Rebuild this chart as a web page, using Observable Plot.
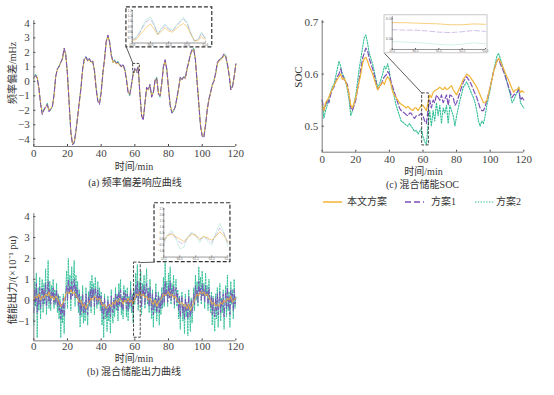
<!DOCTYPE html>
<html><head><meta charset="utf-8">
<script src="https://cdn.jsdelivr.net/npm/d3@7"></script>
<script src="https://cdn.jsdelivr.net/npm/@observablehq/plot@0.6"></script>
<style>
body{margin:0;background:#fff;}
#root{position:relative;width:554px;height:395px;overflow:hidden;background:#fff;font-family:"Liberation Serif","Noto Sans CJK SC",serif;color:#333;}
.t{position:absolute;white-space:nowrap;transform:translate(-50%,-50%);line-height:1;}
.r{transform:translate(-50%,-50%) rotate(-90deg);}
</style></head><body><div id="root"></div>
<script>
// ---------------- data ----------------
const seriesNames = ["本文方案", "方案1", "方案2"];
const xTicks = [0, 20, 40, 60, 80, 100, 120];

// (a) frequency deviation, mHz, one value per minute 0..120
const freqOurs = [0.2,0.4,0.3,-0.5,-1.5,-2.2,-2.0,-1.8,-1.6,-2.0,
 -1.9,-1.7,-1.0,0.3,0.8,1.0,1.3,1.5,2.2,1.8,
 0.5,-1.5,-3.5,-4.3,-4.2,-3.5,-2.5,-1.5,-0.5,0.8,
 1.5,1.6,1.4,1.5,1.3,1.4,0.8,-0.5,-1.3,-1.5,
 -0.8,0.5,1.5,2.7,3.1,2.7,1.8,1.3,1.4,1.2,
 1.3,1.1,1.0,1.1,0.8,0.2,-0.7,-0.9,-0.3,0.5,
 0.8,0.7,1.0,-0.8,-2.3,-2.6,-1.5,-0.5,-0.6,-0.3,
 -1.0,-0.8,0.0,0.2,-0.8,-1.0,-0.2,1.0,1.4,0.8,
 -0.5,-1.6,-2.1,-2.0,-1.8,-1.2,-0.5,0.2,0.1,0.3,
 0.2,0.8,1.3,1.8,2.1,2.2,1.5,0.0,-1.5,-3.0,
 -3.7,-3.8,-3.0,-2.0,-1.3,-0.8,-0.3,0.0,0.5,1.2,
 1.4,1.5,1.6,1.8,1.7,1.2,0.5,-0.5,-0.4,0.3,
 1.2];
const freqS1 = [0.3,0.4,0.2,-0.4,-1.6,-2.3,-2.0,-1.7,-1.6,-2.1,
 -1.9,-1.8,-0.9,0.3,0.9,1.0,1.3,1.6,2.3,1.8,
 0.4,-1.6,-3.5,-4.4,-4.2,-3.4,-2.5,-1.4,-0.5,0.9,
 1.6,1.7,1.4,1.6,1.3,1.4,0.7,-0.5,-1.4,-1.6,
 -0.8,0.6,1.5,2.8,3.2,2.7,1.8,1.4,1.4,1.3,
 1.3,1.2,1.0,1.2,0.8,0.1,-0.8,-0.9,-0.2,0.5,
 0.9,0.7,1.0,-0.9,-2.4,-2.7,-1.5,-0.4,-0.6,-0.2,
 -1.1,-0.8,0.1,0.2,-0.9,-1.0,-0.1,1.0,1.5,0.8,
 -0.5,-1.7,-2.2,-2.0,-1.8,-1.1,-0.5,0.3,0.1,0.3,
 0.2,0.9,1.3,1.9,2.2,2.2,1.5,-0.1,-1.6,-3.1,
 -3.8,-3.9,-3.0,-2.0,-1.2,-0.8,-0.2,0.0,0.6,1.3,
 1.5,1.5,1.7,1.9,1.7,1.2,0.4,-0.6,-0.4,0.3,
 1.2];
const freqS2 = [0.2,0.5,0.3,-0.5,-1.5,-2.1,-1.9,-1.8,-1.5,-2.0,
 -2.0,-1.7,-1.0,0.4,0.8,1.1,1.3,1.5,2.2,1.9,
 0.5,-1.5,-3.6,-4.3,-4.3,-3.5,-2.4,-1.5,-0.4,0.8,
 1.5,1.7,1.5,1.5,1.4,1.3,0.8,-0.4,-1.3,-1.5,
 -0.7,0.5,1.6,2.7,3.1,2.8,1.9,1.3,1.5,1.2,
 1.4,1.1,1.1,1.1,0.9,0.2,-0.7,-1.0,-0.3,0.6,
 0.8,0.8,1.0,-0.8,-2.3,-2.6,-1.6,-0.5,-0.5,-0.3,
 -1.0,-0.7,0.0,0.3,-0.8,-1.1,-0.2,1.1,1.4,0.9,
 -0.4,-1.6,-2.1,-2.1,-1.7,-1.2,-0.4,0.2,0.2,0.3,
 0.3,0.8,1.4,1.8,2.1,2.3,1.4,0.0,-1.5,-3.0,
 -3.7,-3.8,-3.1,-1.9,-1.3,-0.7,-0.3,0.1,0.5,1.2,
 1.4,1.6,1.6,1.8,1.8,1.1,0.5,-0.5,-0.3,0.3,
 1.2];
// (a) inset, 59..63 min every 0.2 min
const freqInsetOurs = [0.65,0.66,0.74,0.82,0.90,0.95,0.86,0.75,0.82,0.88,0.82,0.80,0.86,0.92,0.96,0.90,0.76,0.65,0.64,0.72,0.66];
const freqInsetS1   = [0.66,0.68,0.78,0.90,1.00,1.04,0.92,0.76,0.85,0.93,0.85,0.82,0.90,0.98,1.04,0.96,0.78,0.64,0.66,0.78,0.68];
const freqInsetS2   = [0.67,0.70,0.80,0.93,1.04,1.08,0.95,0.77,0.87,0.95,0.87,0.83,0.92,1.00,1.07,0.98,0.79,0.63,0.67,0.80,0.69];

// (b) storage output, ×10^-1 pu; 方案1/方案2 every 0.5 min, 本文方案 every minute
const powS2 = [-1.2,0.9,-0.3,1.3,-1.8,0.6,-0.5,1.1,-0.9,0.4,
 1.0,-0.6,0.8,-0.2,1.5,-0.7,0.3,1.9,-0.4,0.9,
 -0.5,0.7,0.1,1.0,-0.4,0.5,-0.2,0.8,-0.6,0.3,
 -0.9,0.2,-1.8,-0.3,-1.1,0.3,-1.6,-0.2,0.6,1.4,
 -0.4,2.0,0.3,1.2,-0.5,1.6,0.2,1.1,1.9,-0.3,
 1.2,0.1,0.9,-0.6,0.5,-1.3,0.2,-0.8,0.7,-1.1,
 -0.2,-1.0,0.6,-0.5,-1.2,0.4,-0.3,0.9,-0.6,1.2,
 0.1,0.8,-0.7,1.1,0.3,-0.4,0.9,-0.2,0.6,-0.5,
 0.4,-1.2,-0.1,-1.8,0.3,-0.9,-0.4,-1.5,0.2,-1.0,
 -0.3,-1.6,0.5,-0.6,-1.1,0.1,-0.8,0.6,-0.5,0.3,
 -1.0,0.8,-0.3,1.0,-0.7,0.2,-0.9,0.7,-0.1,0.5,
 -0.8,0.6,-1.0,0.2,-0.4,0.9,-0.6,0.3,-1.1,0.5,
 -0.2,1.3,0.1,1.7,-0.5,0.9,0.2,1.4,-0.7,0.8,
 0.3,1.2,-0.4,0.7,1.5,-0.2,0.6,-0.6,1.0,0.1,
 -0.9,0.5,-1.3,0.1,-0.6,0.8,-1.0,-0.2,0.4,-1.2,
 0.2,-0.7,0.6,-0.4,1.1,-0.3,1.8,0.2,0.9,-0.3,
 1.3,0.1,1.6,-0.2,0.8,0.3,1.2,-0.4,0.7,1.0,
 -0.3,0.5,-0.9,0.2,-1.4,-0.1,0.4,-1.0,-0.3,-1.6,
 0.3,-0.8,-0.2,-1.7,0.5,-0.6,-1.5,0.1,-1.1,-0.4,
 0.6,-0.5,1.2,0.0,0.9,-0.3,1.6,0.4,1.1,-0.2,
 1.4,0.2,0.8,-0.4,1.3,0.3,0.7,-0.5,1.0,0.1,
 -0.6,0.4,-1.2,0.2,-0.8,-1.5,0.3,-0.9,0.6,-1.3,
 -0.2,0.8,-1.0,0.1,-0.6,0.5,-1.4,-0.3,0.7,-0.8,
 1.2,-0.5,0.4,-1.3,0.9,-0.2,0.5,-0.9,1.0,-0.4,
 0.2];
const powS1 = [-0.6,0.5,-0.1,0.8,-0.6,0.3,-0.2,0.6,-0.4,0.3,
 0.6,-0.2,0.5,0.0,0.8,-0.3,0.2,0.9,-0.1,0.5,
 -0.2,0.4,0.1,0.6,-0.2,0.3,-0.1,0.5,-0.3,0.2,
 -0.5,0.0,-0.9,-0.2,-0.6,0.1,-0.8,-0.1,0.3,0.7,
 0.0,1.0,0.3,0.7,0.0,0.9,0.2,0.6,1.0,0.1,
 0.7,0.1,0.5,-0.3,0.3,-0.7,0.0,-0.5,0.3,-0.6,
 -0.1,-0.6,0.3,-0.3,-0.7,0.2,-0.2,0.5,-0.3,0.6,
 0.1,0.5,-0.3,0.6,0.2,-0.2,0.5,-0.1,0.3,-0.2,
 0.2,-0.6,-0.1,-0.9,0.1,-0.5,-0.3,-0.8,0.0,-0.6,
 -0.2,-0.8,0.2,-0.4,-0.6,0.0,-0.4,0.3,-0.3,0.2,
 -0.5,0.4,-0.2,0.5,-0.4,0.1,-0.5,0.4,0.0,0.3,
 -0.4,0.3,-0.5,0.1,-0.2,0.5,-0.3,0.2,-0.6,0.3,
 0.0,0.7,0.1,0.9,-0.2,0.5,0.2,0.8,-0.3,0.5,
 0.2,0.7,-0.2,0.4,0.8,0.0,0.4,-0.3,0.6,0.1,
 -0.5,0.3,-0.7,0.0,-0.3,0.4,-0.6,-0.1,0.2,-0.6,
 0.1,-0.4,0.3,-0.2,0.6,-0.1,0.9,0.2,0.5,-0.1,
 0.7,0.1,0.9,0.0,0.5,0.2,0.7,-0.2,0.4,0.6,
 -0.1,0.3,-0.5,0.1,-0.8,-0.1,0.2,-0.6,-0.2,-0.9,
 0.1,-0.5,-0.1,-0.9,0.2,-0.4,-0.8,0.0,-0.6,-0.2,
 0.3,-0.2,0.7,0.1,0.5,-0.1,0.9,0.3,0.6,0.0,
 0.8,0.2,0.5,-0.1,0.7,0.2,0.4,-0.2,0.6,0.1,
 -0.3,0.2,-0.7,0.1,-0.4,-0.8,0.1,-0.5,0.3,-0.7,
 -0.1,0.4,-0.6,0.0,-0.3,0.3,-0.8,-0.2,0.4,-0.4,
 0.6,-0.3,0.2,-0.7,0.5,-0.1,0.3,-0.5,0.5,-0.2,
 0.1];
const powOurs = [0.0,0.2,0.1,0.3,0.0,0.2,0.1,0.3,0.2,0.4,
 0.1,0.2,0.0,0.2,0.1,-0.1,-0.3,-0.2,0.0,0.3,
 0.4,0.3,0.5,0.3,0.4,0.2,0.1,-0.1,0.0,-0.3,
 -0.2,-0.4,-0.2,-0.1,0.1,0.0,0.2,0.1,0.0,0.1,
 -0.1,-0.3,-0.2,-0.4,-0.3,-0.2,-0.3,-0.1,-0.2,0.0,
 -0.1,0.1,0.0,-0.2,0.0,-0.1,0.1,-0.1,0.0,-0.2,
 0.1,0.3,0.2,0.4,0.2,0.3,0.1,0.2,0.0,0.1,
 -0.1,-0.2,0.0,-0.3,-0.1,0.0,0.1,0.3,0.2,0.3,
 0.4,0.2,0.3,0.1,0.2,0.0,-0.1,-0.2,-0.1,-0.3,
 -0.2,-0.4,-0.2,-0.5,-0.3,-0.1,0.1,0.3,0.2,0.4,
 0.3,0.4,0.2,0.3,0.1,0.0,-0.2,-0.1,-0.3,-0.2,
 -0.3,-0.1,-0.2,0.0,-0.1,0.1,0.0,0.2,-0.1,0.0,
 0.1];
// (b) inset, 59.5..63.5 min every 0.25 min
const powInsetOurs = [-0.1,0.3,0.4,0.2,0.0,-0.2,0.1,0.4,0.3,0.0,0.2,0.1,-0.1,0.2,0.6,0.3,-0.2];
const powInsetS1   = [-0.2,0.3,0.5,0.1,-0.3,-0.4,0.1,0.5,0.3,-0.1,0.2,0.0,-0.3,0.3,0.9,0.5,-0.3];
const powInsetS2   = [-0.4,0.4,0.7,0.0,-0.8,-0.7,0.2,0.6,0.3,-0.3,0.2,-0.2,-0.5,0.5,1.3,0.6,-0.6];

// (c) SOC, one value per minute 0..120
const socOurs = [0.540,0.530,0.545,0.550,0.555,0.565,0.570,0.578,0.585,0.590,
 0.595,0.600,0.590,0.592,0.585,0.575,0.560,0.540,0.535,0.545,
 0.555,0.570,0.585,0.600,0.620,0.630,0.632,0.625,0.615,0.608,
 0.600,0.590,0.580,0.570,0.575,0.580,0.585,0.580,0.590,0.595,
 0.590,0.580,0.565,0.560,0.555,0.550,0.545,0.542,0.540,0.538,
 0.535,0.538,0.535,0.532,0.530,0.535,0.535,0.530,0.535,0.540,
 0.540,0.535,0.530,0.545,0.560,0.555,0.565,0.568,0.570,0.572,
 0.575,0.572,0.570,0.575,0.570,0.572,0.575,0.578,0.570,0.565,
 0.560,0.568,0.575,0.582,0.590,0.595,0.600,0.598,0.595,0.590,
 0.585,0.580,0.575,0.568,0.560,0.552,0.545,0.545,0.550,0.562,
 0.575,0.590,0.605,0.615,0.625,0.630,0.625,0.618,0.610,0.602,
 0.595,0.588,0.580,0.572,0.565,0.570,0.570,0.575,0.565,0.568,
 0.565];
const socS1 = [0.550,0.530,0.540,0.550,0.545,0.560,0.570,0.575,0.585,0.595,
 0.600,0.610,0.598,0.590,0.585,0.580,0.560,0.535,0.530,0.540,
 0.550,0.570,0.590,0.610,0.630,0.640,0.650,0.645,0.630,0.620,
 0.610,0.598,0.585,0.570,0.575,0.580,0.588,0.595,0.598,0.605,
 0.600,0.585,0.575,0.565,0.555,0.545,0.535,0.530,0.528,0.525,
 0.522,0.520,0.525,0.525,0.518,0.515,0.520,0.520,0.522,0.525,
 0.520,0.510,0.505,0.530,0.550,0.535,0.550,0.545,0.560,0.555,
 0.550,0.560,0.545,0.552,0.560,0.540,0.560,0.558,0.555,0.540,
 0.545,0.555,0.565,0.575,0.585,0.590,0.595,0.590,0.585,0.578,
 0.570,0.562,0.555,0.545,0.535,0.530,0.530,0.538,0.550,0.562,
 0.575,0.590,0.605,0.615,0.625,0.630,0.620,0.612,0.605,0.595,
 0.585,0.575,0.565,0.555,0.560,0.562,0.565,0.570,0.550,0.555,
 0.550];
const socS2 = [0.550,0.515,0.530,0.540,0.555,0.565,0.575,0.580,0.595,0.610,
 0.625,0.615,0.600,0.595,0.585,0.570,0.550,0.520,0.530,0.545,
 0.560,0.585,0.610,0.630,0.650,0.670,0.675,0.660,0.640,0.630,
 0.620,0.605,0.590,0.575,0.580,0.590,0.600,0.615,0.610,0.620,
 0.605,0.580,0.570,0.555,0.540,0.530,0.520,0.510,0.508,0.505,
 0.502,0.500,0.505,0.500,0.495,0.490,0.492,0.485,0.490,0.495,
 0.480,0.470,0.465,0.500,0.530,0.500,0.530,0.510,0.545,0.520,
 0.540,0.505,0.535,0.525,0.540,0.505,0.540,0.530,0.520,0.500,
 0.520,0.535,0.550,0.562,0.575,0.580,0.585,0.578,0.570,0.562,
 0.555,0.545,0.530,0.510,0.500,0.510,0.505,0.520,0.540,0.555,
 0.570,0.590,0.605,0.620,0.635,0.640,0.630,0.620,0.610,0.598,
 0.585,0.572,0.560,0.545,0.550,0.558,0.565,0.575,0.545,0.540,
 0.535];
// (c) inset, 59.5..63.5 min every 0.5 min
const socInsetOurs = [0.540,0.540,0.539,0.538,0.537,0.535,0.535,0.537,0.536];
const socInsetS1   = [0.523,0.522,0.522,0.520,0.517,0.516,0.518,0.521,0.519];
const socInsetS2   = [0.494,0.493,0.492,0.490,0.487,0.486,0.488,0.491,0.489];

// ---------------- helpers ----------------
const minutes = d3.range(0, 121);
const halfMinutes = d3.range(0, 241).map(i => i / 2);
const stepAxis = (start, step, n) => d3.range(n).map(i => +(start + i * step).toFixed(3));

const STY = {
  "本文方案": {stroke: "#F2B437", dash: null},
  "方案1": {stroke: "#7A4FB8", dash: "5,2.5"},
  "方案2": {stroke: "#2FBE96", dash: "1.4,1.4"}
};
const rows = (xs, ys) => ys.map((v, i) => ({t: xs[i], v}));
function line(xs, ys, name, sw, op = 1) {
  const o = {x: "t", y: "v", stroke: STY[name].stroke, strokeWidth: sw, strokeOpacity: op};
  if (STY[name].dash) o.strokeDasharray = STY[name].dash;
  return Plot.line(rows(xs, ys), o);
}
const AX = "#7a7a7a";
function axes(yMin, yTicks, yFmt, pad = 5) {
  return [
    Plot.ruleY([yMin], {stroke: AX, strokeWidth: 1}),
    Plot.ruleX([0], {stroke: AX, strokeWidth: 1}),
    Plot.axisX(xTicks, {tickSize: -2, tickPadding: pad, fontSize: 11, color: "#444", label: null}),
    Plot.axisY(yTicks, {tickSize: -2, tickPadding: 6, fontSize: 11, color: "#444", label: null, tickFormat: yFmt})
  ];
}
const root = document.getElementById("root");
function place(el, left, top) {
  el.style.position = "absolute";
  el.style.left = left + "px";
  el.style.top = top + "px";
  el.style.background = "transparent";
  el.style.overflow = "visible";
  el.style.fontFamily = '"Liberation Serif","Noto Sans CJK SC",serif';
  el.style.maxWidth = "none";
  root.appendChild(el);
  return el;
}
function text(s, x, y, size, rot) {
  const d = document.createElement("div");
  d.className = "t" + (rot ? " r" : "");
  d.style.left = x + "px"; d.style.top = y + "px"; d.style.fontSize = size + "px";
  d.textContent = s;
  root.appendChild(d);
}
function inset(host, hl, ht, box, o) {
  const sx = host.scale("x"), sy = host.scale("y");
  const left = hl + sx.apply(box.x1), right = hl + sx.apply(box.x2);
  const top = ht + sy.apply(box.y2), bottom = ht + sy.apply(box.y1);
  const p = Plot.plot({
    width: right - left, height: bottom - top,
    marginLeft: o.m[3], marginRight: o.m[1], marginTop: o.m[0], marginBottom: o.m[2],
    x: {domain: o.dx}, y: {domain: o.dy},
    marks: [
      ...o.lines,
      Plot.ruleX([o.dx[0]], {stroke: "#555", strokeWidth: 0.6}),
      Plot.ruleY([o.dy[0]], {stroke: "#555", strokeWidth: 0.6}),
      Plot.axisX(o.xt, {tickSize: -1, tickPadding: 1.2, fontSize: 3.4, color: "#555", label: null, tickFormat: o.xf}),
      Plot.axisY(o.yt, {tickSize: -1, tickPadding: 1.2, fontSize: 3.4, color: "#555", label: null, tickFormat: o.yf})
    ]
  });
  place(p, left, top);
}

// ---------------- (a) ----------------
const boxA = {x1: 55, x2: 106, y1: 2.35, y2: 5.1};
const zoomA = {x1: 59, x2: 63, y1: 0.6, y2: 1.2};
const chartA = Plot.plot({
  width: 250, height: 160, marginLeft: 33.33, marginRight: 14.67, marginTop: 20, marginBottom: 14,
  x: {domain: [0, 120]}, y: {domain: [-4.5, 4.2]},
  marks: [
    line(minutes, freqS2, "方案2", 1),
    line(minutes, freqOurs, "本文方案", 1),
    line(minutes, freqS1, "方案1", 1),
    ...axes(-4.5, [-4,-3,-2,-1,0,1,2,3,4]),
    Plot.rect([zoomA], {x1: "x1", x2: "x2", y1: "y1", y2: "y2", fill: "none", stroke: "#333", strokeWidth: 0.9, strokeDasharray: "2.5,1.5"}),
    Plot.link([{a: boxA.x1, b: boxA.y1, c: zoomA.x1, d: zoomA.y2}], {x1: "a", y1: "b", x2: "c", y2: "d", stroke: "#333", strokeWidth: 0.8}),
    Plot.rect([boxA], {x1: "x1", x2: "x2", y1: "y1", y2: "y2", fill: "white", stroke: "#333", strokeWidth: 1.2, strokeDasharray: "4,2"})
  ]
});
place(chartA, 0, 0);
inset(chartA, 0, 0, boxA, {
  m: [3, 7, 4.3, 5.7], dx: [59, 63], dy: [0.6, 1.2],
  xt: stepAxis(59, 1, 5), yt: stepAxis(0.7, 0.1, 6), xf: d3.format(".1f"), yf: d3.format(".1f"),
  lines: [
    line(stepAxis(59, 0.2, 21), freqInsetS2, "方案2", 0.7, 0.55),
    line(stepAxis(59, 0.2, 21), freqInsetS1, "方案1", 0.7, 0.45),
    line(stepAxis(59, 0.2, 21), freqInsetOurs, "本文方案", 0.8, 0.7)
  ]
});
text("频率偏差/mHz", 13, 73, 10, true);
text("时间/min", 134, 167, 10);
text("(a) 频率偏差响应曲线", 135, 183, 10);

// ---------------- (b) ----------------
const topB = 193.33;
const boxB = {x1: 71.7, x2: 116.8, y1: 1.82, y2: 4.64};
const zoomB = {x1: 59.5, x2: 63.5, y1: -1.8, y2: 1.8};
const chartB = Plot.plot({
  width: 250, height: 162, marginLeft: 33.33, marginRight: 14.67, marginTop: 20, marginBottom: 14.63,
  x: {domain: [0, 120]}, y: {domain: [-1.95, 4.15]},
  marks: [
    line(halfMinutes, powS2, "方案2", 0.9),
    line(halfMinutes, powS1, "方案1", 0.9),
    line(minutes, powOurs, "本文方案", 0.9),
    ...axes(-1.95, [-1,0,1,2,3,4], undefined, 3.5),
    Plot.rect([zoomB], {x1: "x1", x2: "x2", y1: "y1", y2: "y2", fill: "none", stroke: "#333", strokeWidth: 0.9, strokeDasharray: "3,1.5"}),
    Plot.link([{a: boxB.x1, b: boxB.y1, c: zoomB.x2, d: zoomB.y2}], {x1: "a", y1: "b", x2: "c", y2: "d", stroke: "#333", strokeWidth: 0.8}),
    Plot.rect([boxB], {x1: "x1", x2: "x2", y1: "y1", y2: "y2", fill: "white", stroke: "#333", strokeWidth: 1.2, strokeDasharray: "4,2"})
  ]
});
place(chartB, 0, topB);
inset(chartB, 0, topB, boxB, {
  m: [5.3, 2.7, 5.3, 9.3], dx: [59.5, 63.5], dy: [-1.5, 2.5],
  xt: stepAxis(59.5, 1, 5), yt: stepAxis(-1.0, 0.5, 8), xf: d3.format(".1f"), yf: d3.format(".1f"),
  lines: [
    line(stepAxis(59.5, 0.25, 17), powInsetS2, "方案2", 0.7, 0.4),
    line(stepAxis(59.5, 0.25, 17), powInsetS1, "方案1", 0.7, 0.45),
    line(stepAxis(59.5, 0.25, 17), powInsetOurs, "本文方案", 0.8, 0.75)
  ]
});
text("储能出力/(×10⁻¹ pu)", 13, 280, 10.5, true);
text("时间/min", 134, 359, 10);
text("(b) 混合储能出力曲线", 134, 372, 10);

// ---------------- (c) ----------------
const leftC = 290;
const boxC = {x1: 37.1, x2: 98.4, y1: 0.64, y2: 0.713};
const zoomC = {x1: 59.5, x2: 63.5, y1: 0.463, y2: 0.563};
const chartC = Plot.plot({
  width: 264, height: 166, marginLeft: 31.7, marginRight: 30.7, marginTop: 20, marginBottom: 14.3,
  x: {domain: [0, 120]}, y: {domain: [0.45, 0.703]},
  marks: [
    line(minutes, socS2, "方案2", 1.1),
    line(minutes, socS1, "方案1", 1.2),
    line(minutes, socOurs, "本文方案", 1.2),
    ...axes(0.45, [0.5, 0.6, 0.7], d3.format(".1f")),
    Plot.rect([zoomC], {x1: "x1", x2: "x2", y1: "y1", y2: "y2", fill: "none", stroke: "#333", strokeWidth: 0.9, strokeDasharray: "3,1.5"}),
    Plot.link([{a: boxC.x1, b: boxC.y1, c: zoomC.x1, d: zoomC.y2}], {x1: "a", y1: "b", x2: "c", y2: "d", stroke: "#333", strokeWidth: 0.8}),
    Plot.rect([boxC], {x1: "x1", x2: "x2", y1: "y1", y2: "y2", fill: "white", stroke: "#bbb", strokeWidth: 0.8})
  ]
});
place(chartC, leftC, 0);
inset(chartC, leftC, 0, boxC, {
  m: [1, 2, 4, 7.7], dx: [59.5, 63.5], dy: [0.475, 0.555],
  xt: stepAxis(59.5, 1, 5), yt: [0.5, 0.55], xf: d3.format(".1f"), yf: d3.format(".2f"),
  lines: [
    line(stepAxis(59.5, 0.5, 9), socInsetS2, "方案2", 0.6, 0.45),
    line(stepAxis(59.5, 0.5, 9), socInsetS1, "方案1", 0.6, 0.6),
    line(stepAxis(59.5, 0.5, 9), socInsetOurs, "本文方案", 0.8, 0.8)
  ]
});
text("SOC", 298, 77, 11, true);
text("时间/min", 423.5, 172, 10);
text("(c) 混合储能SOC", 422.5, 185, 10);

// legend
const legendItems = [
  {name: "本文方案", sx: 323, tx: 367},
  {name: "方案1", sx: 405, tx: 443.5},
  {name: "方案2", sx: 475, tx: 508.5}
];
legendItems.forEach(it => {
  const s = document.createElementNS("http://www.w3.org/2000/svg", "svg");
  s.setAttribute("width", 20); s.setAttribute("height", 4);
  s.style.position = "absolute"; s.style.left = it.sx + "px"; s.style.top = "199.7px";
  const l = document.createElementNS("http://www.w3.org/2000/svg", "line");
  l.setAttribute("x1", 0); l.setAttribute("x2", 19); l.setAttribute("y1", 2); l.setAttribute("y2", 2);
  l.setAttribute("stroke", STY[it.name].stroke);
  l.setAttribute("stroke-width", it.name === "方案2" ? 1.1 : 1.5);
  if (STY[it.name].dash) l.setAttribute("stroke-dasharray", it.name === "方案1" ? "6,3" : "1.4,1.4");
  s.appendChild(l);
  root.appendChild(s);
  text(it.name, it.tx, 201.7, 10);
});
</script></body></html>
